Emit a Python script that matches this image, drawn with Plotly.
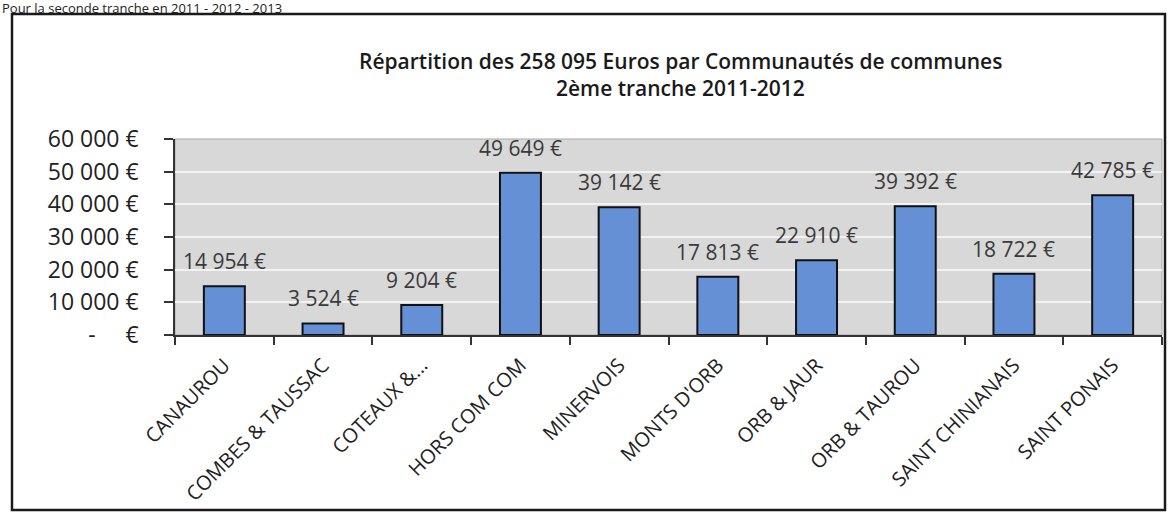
import plotly.graph_objects as go

categories = ["CANAUROU", "COMBES & TAUSSAC", "COTEAUX &...", "HORS COM COM", "MINERVOIS",
              "MONTS D'ORB", "ORB & JAUR", "ORB & TAUROU", "SAINT CHINIANAIS", "SAINT PONAIS"]
values = [14954, 3524, 9204, 49649, 39142, 17813, 22910, 39392, 18722, 42785]
ytick_vals = [0, 10000, 20000, 30000, 40000, 50000, 60000]
ytick_text = ["-\u00a0\u00a0\u00a0\u00a0\u00a0€", "10 000 €", "20 000 €", "30 000 €", "40 000 €", "50 000 €", "60 000 €"]
title_lines = ["Répartition des 258 095 Euros par Communautés de communes", "2ème tranche 2011-2012"]
page_heading = "Pour la seconde tranche en 2011 - 2012 - 2013"

FONT = "Open Sans, sans-serif"
W, H = 1170, 512
L, R, T, B = 175, 8, 139, 177
pw, ph = W - L - R, H - T - B

def px(x):
    return (x - L) / pw

def py(y):
    return (H - B - y) / ph

def fmt(v):
    return f"{v:,}".replace(",", " ") + " €"

fig = go.Figure()
fig.add_trace(go.Bar(
    x=categories, y=values,
    marker=dict(color="#6590d6", line=dict(color="#111111", width=2)),
    hoverinfo="x+y",
))

annotations = []
for c, v in zip(categories, values):
    annotations.append(dict(x=c, y=v, xref="x", yref="y", text=fmt(v), showarrow=False,
                            yanchor="middle", yshift=25,
                            font=dict(family=FONT, size=21, color="#3a3a3a")))
annotations.append(dict(x=px(680), y=py(61), xref="paper", yref="paper",
                        text=title_lines[0], showarrow=False, xanchor="center", yanchor="middle",
                        font=dict(family=FONT, size=21, color="#1a1a1a", weight=600)))
annotations.append(dict(x=px(680), y=py(88), xref="paper", yref="paper",
                        text=title_lines[1], showarrow=False, xanchor="center", yanchor="middle",
                        font=dict(family=FONT, size=21, color="#1a1a1a", weight=600)))
annotations.append(dict(x=px(0), y=py(8), xref="paper", yref="paper",
                        text=page_heading, showarrow=False, xanchor="left", yanchor="middle",
                        font=dict(family=FONT, size=13, color="#222222")))

shapes = [
    dict(type="rect", xref="paper", yref="paper",
         x0=px(12), x1=px(1165), y0=py(510), y1=py(14),
         line=dict(color="#1a1a1a", width=2.5), fillcolor="rgba(0,0,0,0)", layer="below"),
    dict(type="rect", xref="paper", yref="paper", x0=0, x1=1, y0=0, y1=1,
         line=dict(color="#a8a8a8", width=1), fillcolor="rgba(0,0,0,0)", layer="below"),
]

fig.update_layout(
    width=W, height=H,
    margin=dict(l=L, r=R, t=T, b=B, autoexpand=False),
    paper_bgcolor="white",
    plot_bgcolor="#d8d8d8",
    bargap=0.585,
    showlegend=False,
    annotations=annotations,
    shapes=shapes,
    font=dict(family=FONT, color="#333333"),
    xaxis=dict(
        automargin=False,
        tickangle=-45,
        tickson="boundaries",
        ticks="outside", ticklen=8, tickcolor="#333333", tickwidth=1.5,
        ticklabelstandoff=9,
        showline=True, linecolor="#333333", linewidth=1.5,
        showgrid=False,
        tickfont=dict(family=FONT, size=20, color="#222222"),
        range=[-0.5, len(categories) - 0.5],
    ),
    yaxis=dict(
        automargin=False,
        range=[0, 60000],
        tickvals=ytick_vals, ticktext=ytick_text,
        ticks="outside", ticklen=9, tickcolor="#333333", tickwidth=1.5,
        ticklabelstandoff=21,
        showline=True, linecolor="#333333", linewidth=1.5,
        showgrid=True, gridcolor="#f2f2f2", gridwidth=1.5,
        zeroline=False,
        tickfont=dict(family=FONT, size=23, color="#222222"),
    ),
)

fig.write_html("out.html", config={"displayModeBar": False},
               post_script="document.body.style.margin='0';document.body.style.overflow='hidden';")
